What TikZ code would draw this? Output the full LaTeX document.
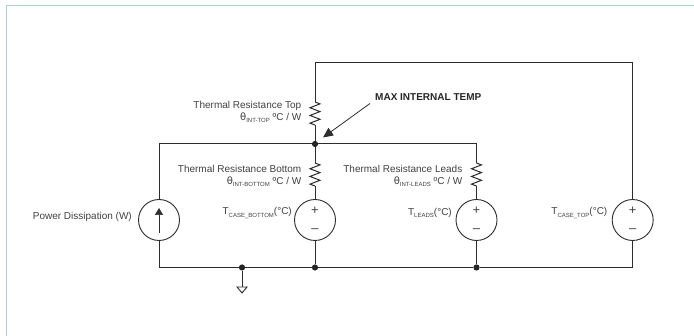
\documentclass[tikz,border=0pt]{standalone}
\usepackage{fontspec}
\setmainfont{Liberation Sans}
\usetikzlibrary{arrows.meta}
\definecolor{frameblue}{RGB}{172,208,218}
\definecolor{wire}{RGB}{45,45,45}
\definecolor{txt}{RGB}{65,65,65}
\newfontfamily\symf{DejaVu Sans}
\tikzset{
  x=1pt,y=-1pt,
  wireline/.style={draw=wire,line width=1pt},
  srcnode/.style={circle,draw=wire,line width=0.9pt,minimum size=41pt,inner sep=0pt,fill=white},
  dotnode/.style={circle,fill=black!85,inner sep=0pt,minimum size=6.2pt},
  lbl/.style={font=\fontsize{10}{12}\selectfont,text=txt,inner sep=0pt},
  sign/.style={font=\fontsize{13}{13}\selectfont,text=txt,inner sep=0pt},
}
\newcommand{\subt}[1]{\raisebox{-2.2pt}{\fontsize{6}{6}\selectfont #1}}
\newcommand{\zig}[3]{% x, ytop, ybottom
  \draw[wireline,line join=miter] (#1,#2)
   -- ++(5,1.9) -- ++(-10,3.85) -- ++(10,3.85) -- ++(-10,3.85) -- ++(10,3.85) -- ++(-10,3.85) -- (#1,#3);}
\begin{document}
\begin{tikzpicture}
\useasboundingbox (0,0) rectangle (694,336);
\fill[white] (0,0) rectangle (694,336);
\draw[frameblue,line width=1.7pt] (6.5,336) -- (6.5,5.5) -- (694,5.5);

% nodes
\node[srcnode] (ps) at (159,220) {};
\node[srcnode] (vb) at (315,220) {};
\node[srcnode] (vl) at (476.5,220) {};
\node[srcnode] (vt) at (632.7,220) {};
\node[dotnode] (jt) at (315,144) {};
\node[dotnode] (jg) at (242,267.5) {};
\node[dotnode] (jb) at (315,267.5) {};
\node[dotnode] (jl) at (476.5,267.5) {};
\coordinate (cpt) at (159,144);
\coordinate (clt) at (476.5,144);
\coordinate (cpb) at (159,267.5);
\coordinate (ctb) at (632.7,267.5);
\coordinate (ctt) at (632.7,62.5);
\coordinate (ctl) at (315,62.5);
\coordinate (gnd) at (242,287);
\coordinate (rtt) at (315,102);
\coordinate (rtb) at (315,125);
\coordinate (rbt) at (315,163);
\coordinate (rbb) at (315,186);
\coordinate (rlt) at (476.5,163);
\coordinate (rlb) at (476.5,186);
\coordinate (as) at (370,103.5);
\coordinate (ae) at (323,137.5);

% wires
\draw[wireline] (ps.north) -- (cpt) -- (jt) -- (clt) -- (rlt);
\draw[wireline] (rlb) -- (vl.north);
\draw[wireline] (ps.south) -- (cpb) -- (jg) -- (jb) -- (jl) -- (ctb) -- (vt.south);
\draw[wireline] (vt.north) -- (ctt) -- (ctl) -- (rtt);
\draw[wireline] (rtb) -- (jt);
\draw[wireline] (jt) -- (rbt);
\draw[wireline] (rbb) -- (vb.north);
\draw[wireline] (vb.south) -- (jb);
\draw[wireline] (vl.south) -- (jl);
\draw[wireline] (jg) -- (gnd);
\draw[wire,line width=0.9pt,fill=white,line join=miter] (gnd) ++(-5,0) -- ++(10,0) -- ++(-5,6) -- cycle;
\zig{315}{102}{125}
\zig{315}{163}{186}
\zig{476.5}{163}{186}

% arrow
\draw[wire,line width=0.8pt,-{Triangle[length=10pt,width=9pt]}] (as) -- (ae);

% source symbols
\coordinate (pa1) at (159,233);
\coordinate (pa2) at (159,208);
\draw[wire,line width=0.7pt,-{Triangle[length=7pt,width=8pt]}] (pa1) -- (pa2);
\node[sign] at (315,211) {+};
\node[sign] at (315,231) {–};
\node[sign] at (476.5,211) {+};
\node[sign] at (476.5,231) {–};
\node[sign] at (632.7,211) {+};
\node[sign] at (632.7,231) {–};

% labels
\node[lbl,anchor=east] (l1) at (301.5,105.5) {Thermal Resistance Top};
\node[lbl,anchor=east] (l2) at (301.5,117.5) {{\symf θ}\subt{INT-TOP} ºC / W};
\node[lbl,anchor=east] (l3) at (301.5,168.5) {Thermal Resistance Bottom};
\node[lbl,anchor=east] (l4) at (301.5,181.5) {{\symf θ}\subt{INT-BOTTOM} ºC / W};
\node[lbl,anchor=east] (l5) at (462.5,168.5) {Thermal Resistance Leads};
\node[lbl,anchor=east] (l6) at (462.5,181.5) {{\symf θ}\subt{INT-LEADS} ºC / W};
\node[lbl,anchor=east] (l7) at (132,216.5) {Power Dissipation (W)};
\node[lbl,anchor=east] (l8) at (292,213) {T\subt{CASE\_BOTTOM}(°C)};
\node[lbl,anchor=east] (l9) at (452,213) {T\subt{LEADS}(°C)};
\node[lbl,anchor=east] (l10) at (607.5,213) {T\subt{CASE\_TOP}(°C)};
\node[lbl,anchor=west,font=\fontsize{10}{12}\selectfont\bfseries,text=black!85] (l11) at (375,97.5) {MAX INTERNAL TEMP};
\end{tikzpicture}
\end{document}
